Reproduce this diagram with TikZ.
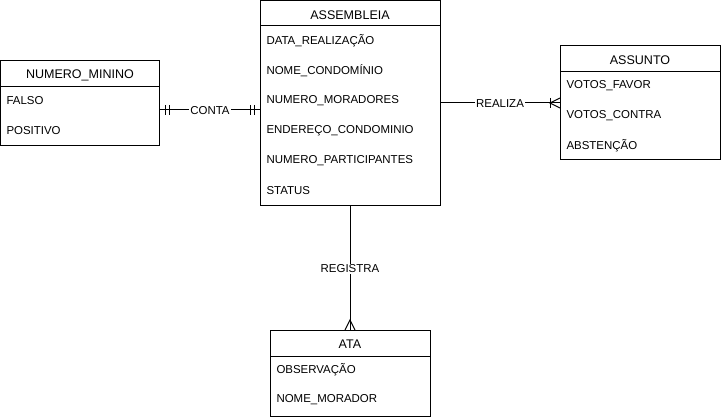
\documentclass[tikz,border=0pt]{standalone}
\usepackage{fontspec}
\setmainfont{Liberation Sans}
\usetikzlibrary{positioning}
\begin{document}
\begin{tikzpicture}[x=0.75pt,y=-0.75pt,line width=0.75pt,
    entity/.style={draw, anchor=north west, inner sep=0pt, outer sep=0pt},
    title/.style={font=\fontsize{9.4}{11}\selectfont, inner sep=0pt},
    attr/.style={anchor=west, font=\fontsize{8.6}{10}\selectfont, inner sep=0pt},
    rel/.style={fill=white, font=\fontsize{8.6}{10}\selectfont, inner sep=1pt}]
	\useasboundingbox (0,0) rectangle (721,420);
	%Entities
	\node[entity, minimum width=135pt, minimum height=153.75pt] (assembleia) at (260,1) {};
	\node[entity, minimum width=119.6pt, minimum height=63.75pt] (numero) at (0.5,61) {};
	\node[entity, minimum width=120pt, minimum height=85.5pt] (assunto) at (560,46) {};
	\node[entity, minimum width=120pt, minimum height=64.5pt] (ata) at (270,330) {};
	%Headers
	\draw (assembleia.north west) ++(0,25) -- ++(180,0);
	\draw (numero.north west) ++(0,26) -- ++(159.5,0);
	\draw (assunto.north west) ++(0,26) -- ++(160,0);
	\draw (ata.north west) ++(0,26) -- ++(160,0);
	\node[title] (assembleia-t) at (350,15) {ASSEMBLEIA};
	\node[title] (numero-t) at (80,75) {NUMERO\_MININO};
	\node[title] (assunto-t) at (640,60) {ASSUNTO};
	\node[title] (ata-t) at (350,344) {ATA};
	%Attributes
	\foreach \txt [count=\i] in {DATA\_REALIZAÇÃO, NOME\_CONDOMÍNIO, NUMERO\_MORADORES,
	    ENDEREÇO\_CONDOMINIO, NUMERO\_PARTICIPANTES, STATUS}
		\node[attr] (assembleia-\i) at (266,11+30*\i) {\txt};
	\foreach \txt [count=\i] in {FALSO, POSITIVO}
		\node[attr] (numero-\i) at (6,71+30*\i) {\txt};
	\foreach \txt [count=\i] in {VOTOS\_FAVOR, VOTOS\_CONTRA, ABSTENÇÃO}
		\node[attr] (assunto-\i) at (566,56+30*\i) {\txt};
	\foreach \txt [count=\i] in {OBSERVAÇÃO, NOME\_MORADOR}
		\node[attr] (ata-\i) at (276,340+30*\i) {\txt};
	%Relationships
	\coordinate (conta-a) at (numero.east |- 0,110);
	\coordinate (conta-b) at (assembleia.west |- 0,110);
	\coordinate (realiza-a) at (assembleia.east |- 0,103);
	\coordinate (realiza-b) at (assunto.west |- 0,103);
	\draw (conta-a) -- node[rel, yshift=-0.75pt] {CONTA} (conta-b);
	\draw (realiza-a) -- node[rel, yshift=-0.75pt] {REALIZA} (realiza-b);
	\draw (assembleia.south) -- node[rel, yshift=-0.75pt] {REGISTRA} (ata.north);
	%Ends
	\foreach \d in {6,10} {
		\draw (conta-a) ++(\d,-5) -- ++(0,10);
		\draw (conta-b) ++(-\d,-5) -- ++(0,10);
	}
	\draw (realiza-b) ++(-10,-5) -- ++(0,10);
	\draw (realiza-b) ++(0,-5) -- ++(-10,5) -- ++(10,5);
	\draw (ata.north) ++(-5,0) -- ++(5,-10) -- ++(5,10);
\end{tikzpicture}
\end{document}
